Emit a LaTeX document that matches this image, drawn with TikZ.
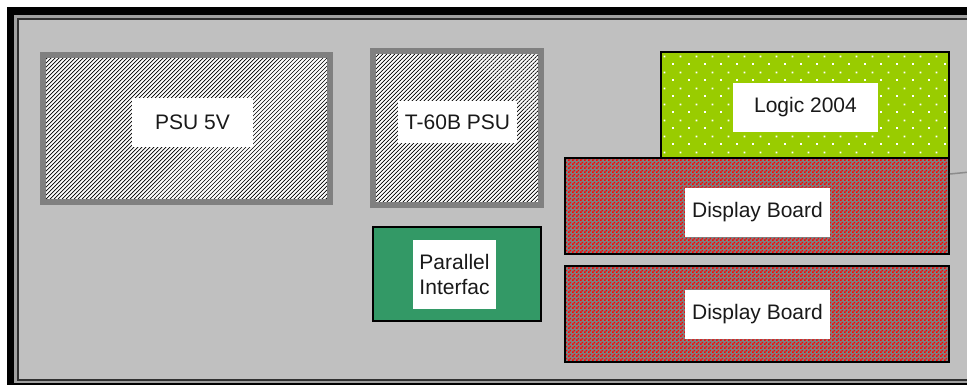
\documentclass[tikz,border=0pt]{standalone}
\usepackage{fontspec}
\setmainfont{Liberation Sans}
\usetikzlibrary{patterns,patterns.meta}
\newdimen\pxu \pxu=0.75pt
\definecolor{frameBg}{HTML}{C0C0C0}
\definecolor{frameMid}{HTML}{A0A0A0}
\definecolor{frameDark}{HTML}{303030}
\definecolor{psuBorder}{HTML}{808080}
\definecolor{logicGreen}{HTML}{99CC00}
\definecolor{parGreen}{HTML}{339966}
\definecolor{dispGray}{HTML}{808080}
\pgfdeclarepatternformonly{wdots}{\pgfpointorigin}{\pgfqpoint{12pt}{12pt}}{\pgfqpoint{12pt}{12pt}}{%
  \pgfpathrectangle{\pgfqpoint{0pt}{0pt}}{\pgfqpoint{1.5pt}{1.5pt}}%
  \pgfpathrectangle{\pgfqpoint{6pt}{6pt}}{\pgfqpoint{1.5pt}{1.5pt}}%
  \pgfusepath{fill}}
\pgfdeclarepatternformonly{smallchecker}{\pgfpointorigin}{\pgfqpoint{3pt}{3pt}}{\pgfqpoint{3pt}{3pt}}{%
  \pgfpathrectangle{\pgfqpoint{0pt}{0pt}}{\pgfqpoint{1.5pt}{1.5pt}}%
  \pgfpathrectangle{\pgfqpoint{1.5pt}{1.5pt}}{\pgfqpoint{1.5pt}{1.5pt}}%
  \pgfusepath{fill}}
\tikzset{
  psubox/.style={draw=psuBorder, line width=6\pxu, preaction={fill=white},
    pattern={Lines[angle=45,distance=2.12pt,line width=0.5pt]}, pattern color=black,
    inner sep=0pt, outer sep=0pt},
  logicbox/.style={draw=black, line width=2\pxu, preaction={fill=logicGreen},
    pattern=wdots, pattern color=white, inner sep=0pt, outer sep=0pt},
  dispbox/.style={draw=black, line width=2\pxu, preaction={fill=dispGray},
    pattern=smallchecker, pattern color=red, inner sep=0pt, outer sep=0pt},
  parbox/.style={draw=black, line width=2\pxu, fill=parGreen, inner sep=0pt, outer sep=0pt},
  labelbox/.style={fill=white, inner sep=0pt, align=center, text=black!90,
    font=\fontsize{15.75pt}{18.75pt}\selectfont},
}
\begin{document}
\begin{tikzpicture}[x=0.75pt,y=-0.75pt]
\useasboundingbox (0,0) rectangle (967,385);
\clip (0,0) rectangle (967,385);
% outer frame
\fill[black] (7,7) rectangle (1100,500);
\fill[frameMid] (14,15) rectangle (1090,383);
\fill[frameDark] (17,18) rectangle (1080,381);
\fill[frameBg] (19,20) rectangle (1070,379);
% components
\node[psubox, minimum width=287\pxu, minimum height=147\pxu] (psu5) at (186.5,128.5) {};
\node[labelbox, minimum width=121\pxu, minimum height=49\pxu] (psu5l) at (192.5,122.5) {PSU 5V};
\node[psubox, minimum width=168\pxu, minimum height=154\pxu] (t60) at (457,128) {};
\node[labelbox, minimum width=119\pxu, minimum height=42\pxu] (t60l) at (457.5,122) {T-60B PSU};
\node[parbox, minimum width=168\pxu, minimum height=94\pxu] (par) at (457,274) {};
\node[labelbox, minimum width=83\pxu, minimum height=69\pxu] (parl) at (454.5,274.5) {Parallel\\Interfac};
\node[logicbox, minimum width=288\pxu, minimum height=106\pxu] (logic) at (805,105) {};
\node[labelbox, minimum width=145\pxu, minimum height=49\pxu] (logicl) at (805.5,107.5) {Logic 2004};
\node[dispbox, minimum width=384\pxu, minimum height=96\pxu] (disp1) at (757,206) {};
\node[labelbox, minimum width=145\pxu, minimum height=49\pxu] (disp1l) at (757.5,212.5) {Display Board};
\node[dispbox, minimum width=384\pxu, minimum height=96\pxu] (disp2) at (757,314) {};
\node[labelbox, minimum width=145\pxu, minimum height=49\pxu] (disp2l) at (757.5,314.5) {Display Board};
% connector leaving to the right
\coordinate (cs) at (950,174);
\coordinate (ce) at (1000,169);
\draw[draw=black!45, line width=1.5\pxu] (cs) -- (ce);
\end{tikzpicture}
\end{document}
